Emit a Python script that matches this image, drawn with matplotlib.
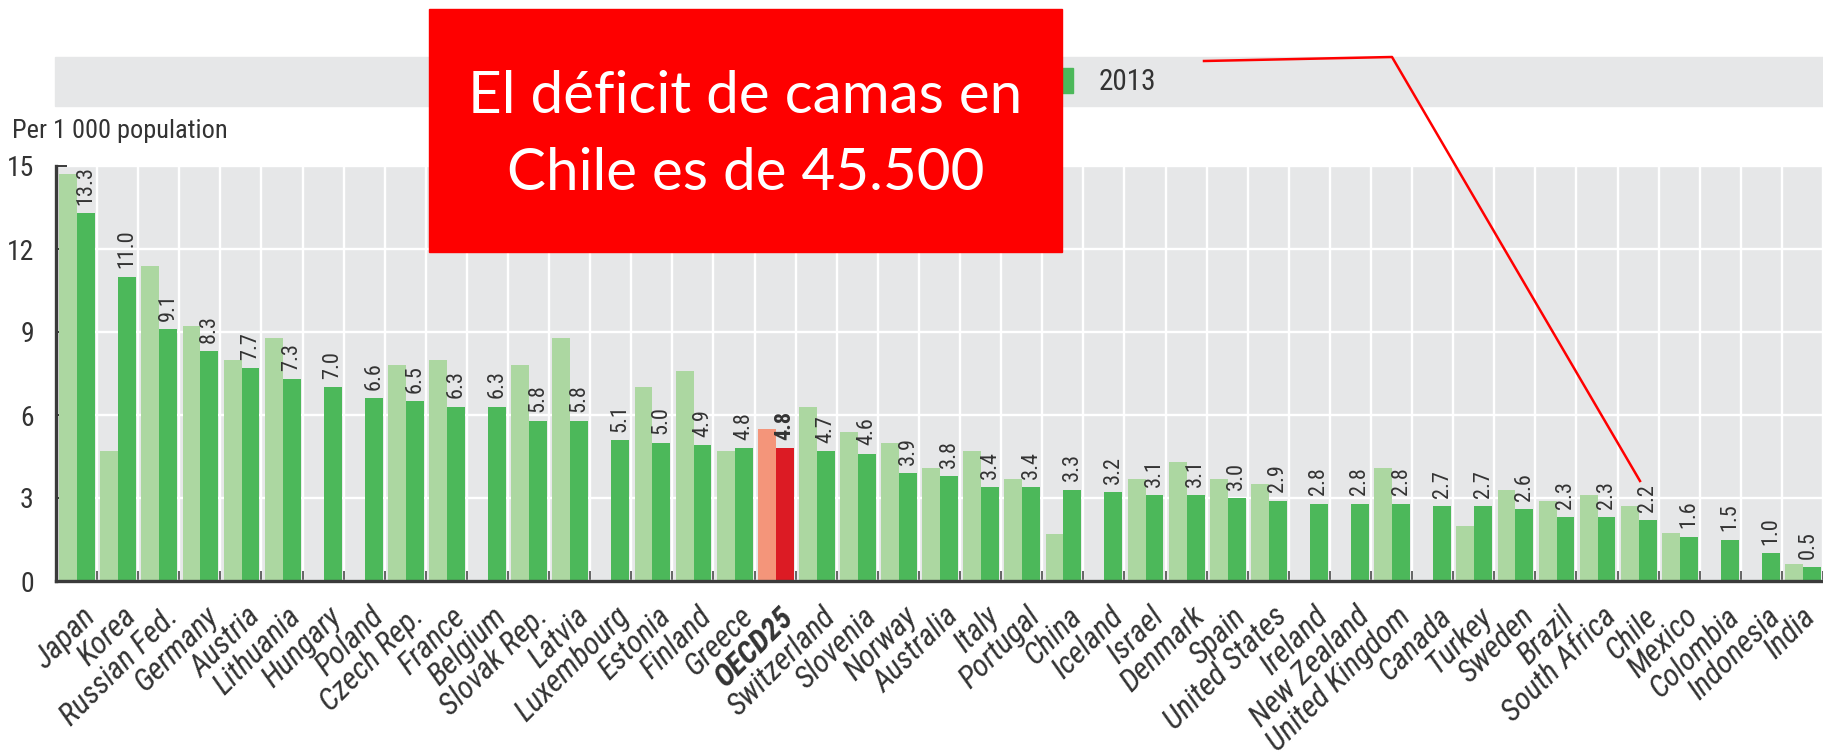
import numpy as np
import matplotlib
matplotlib.use("Agg")
import matplotlib.pyplot as plt
from matplotlib.patches import Rectangle
from matplotlib.lines import Line2D
from matplotlib import font_manager as fm

# ---------------- data ----------------
countries = ["Japan", "Korea", "Russian Fed.", "Germany", "Austria", "Lithuania",
             "Hungary", "Poland", "Czech Rep.", "France", "Belgium", "Slovak Rep.",
             "Latvia", "Luxembourg", "Estonia", "Finland", "Greece", "OECD25",
             "Switzerland", "Slovenia", "Norway", "Australia", "Italy", "Portugal",
             "China", "Iceland", "Israel", "Denmark", "Spain", "United States",
             "Ireland", "New Zealand", "United Kingdom", "Canada", "Turkey",
             "Sweden", "Brazil", "South Africa", "Chile", "Mexico", "Colombia",
             "Indonesia", "India"]
nan = np.nan
beds_2000 = [14.7, 4.7, 11.4, 9.2, 8.0, 8.8, nan, nan, 7.8, 8.0, nan, 7.8, 8.8,
             nan, 7.0, 7.6, 4.7, 5.5, 6.3, 5.4, 5.0, 4.1, 4.7, 3.7, 1.7, nan,
             3.7, 4.3, 3.7, 3.5, nan, nan, 4.1, nan, 2.0, 3.3, 2.9, 3.1, 2.7,
             1.75, nan, nan, 0.6]
beds_2013 = [13.3, 11.0, 9.1, 8.3, 7.7, 7.3, 7.0, 6.6, 6.5, 6.3, 6.3, 5.8, 5.8,
             5.1, 5.0, 4.9, 4.8, 4.8, 4.7, 4.6, 3.9, 3.8, 3.4, 3.4, 3.3, 3.2,
             3.1, 3.1, 3.0, 2.9, 2.8, 2.8, 2.8, 2.7, 2.7, 2.6, 2.3, 2.3, 2.2,
             1.6, 1.5, 1.0, 0.5]
highlight = "OECD25"
y_ticks = [0, 3, 6, 9, 12, 15]
legend_label = "2013"
y_title = "Per 1 000 population"
note_lines = ["El déficit de camas en", "Chile es de 45.500"]

# ---------------- style ----------------
W, H = 1823, 756
LIGHT, DARK = "#acd7a1", "#4cb85a"
HL_LIGHT, HL_DARK = "#f4957a", "#dc1b24"
BG = "#e6e7e8"
TXT = "#333333"
AX = "#3a3a3a"


def pick_narrow():
    names = {f.name for f in fm.fontManager.ttflist}
    for nm in ["Liberation Sans Narrow", "Arial Narrow", "Roboto Condensed",
               "Noto Sans Condensed", "Open Sans Condensed",
               "DejaVu Sans Condensed", "Noto Sans SemiCondensed",
               "Open Sans SemiCondensed"]:
        if nm in names:
            return nm, "normal", True
    for fam in ["Noto Sans", "Roboto", "Open Sans", "Liberation Sans",
                "DejaVu Sans"]:
        for f in fm.fontManager.ttflist:
            if f.name == fam and str(f.stretch) in (
                    "condensed", "semi-condensed", "extra-condensed"):
                return fam, str(f.stretch), True
    return "Liberation Sans", "normal", False


NFAM, NSTRETCH, narrow_ok = pick_narrow()
NARROW = [NFAM, "DejaVu Sans"]
k = 1.0 if narrow_ok else 0.87

fig = plt.figure(figsize=(W / 100, H / 100), dpi=100)


def fx(x):
    return x / W


def fy(y):
    return 1 - y / H


ax_left, ax_bottom_px, ax_top_px = 56, 581, 166
ax = fig.add_axes([fx(ax_left), fy(ax_bottom_px), 1 - fx(ax_left),
                   (ax_bottom_px - ax_top_px) / H])
ax.set_facecolor(BG)

n = len(countries)
x = np.arange(n)
group_px = 41.19
bw = 0.435
off_l, off_d = -0.2025, 0.2325

c_light = [HL_LIGHT if c == highlight else LIGHT for c in countries]
c_dark = [HL_DARK if c == highlight else DARK for c in countries]
ax.bar(x + off_l, np.nan_to_num(beds_2000), width=bw, color=c_light, zorder=2)
ax.bar(x + off_d, beds_2013, width=bw, color=c_dark, zorder=2)

ax.set_xlim(-0.5, -0.5 + (W - ax_left) / group_px)
ax.set_ylim(0, 15)

# grid
ax.set_axisbelow(True)
ax.set_yticks(y_ticks)
ax.set_xticks(x)
ax.set_xticks(np.arange(-0.5, n, 1), minor=True)
ax.grid(axis="y", which="major", color="white", lw=1.7)
ax.grid(axis="x", which="minor", color="white", lw=1.7)
ax.grid(axis="x", which="major", visible=False)

for s in ["top", "right"]:
    ax.spines[s].set_visible(False)
for s in ["left", "bottom"]:
    ax.spines[s].set_color(AX)
    ax.spines[s].set_linewidth(2.4)
    ax.spines[s].set_zorder(5)

ax.tick_params(axis="x", which="major", length=0, labelbottom=False)
ax.tick_params(axis="x", which="minor", direction="in", length=7, width=1.1,
               color=AX)
ax.tick_params(axis="y", which="major", direction="in", length=8, width=1.4,
               color=AX, pad=16, labelsize=20 * k, labelcolor=TXT)
for t in ax.get_yticklabels():
    t.set_family(NARROW)
    t.set_fontstretch(NSTRETCH)

# value labels (2013)
for i, (c, v) in enumerate(zip(countries, beds_2013)):
    dx = -3 if i == n - 1 else 0   # keep the last label inside the picture
    ax.annotate(f"{v:.1f}", xy=(i + off_d, v), xytext=(dx, 6),
                textcoords="offset points", rotation=90, ha="center",
                va="bottom", fontsize=16 * k, family=NARROW,
                fontstretch=NSTRETCH, color=TXT,
                fontweight="bold" if c == highlight else "normal", zorder=4)

# category labels
for i, c in enumerate(countries):
    dx = -1.5 if i == n - 1 else 3
    ax.annotate(c, xy=(i, 0), xycoords=("data", "axes fraction"),
                xytext=(dx, -15), textcoords="offset points", rotation=45,
                rotation_mode="anchor", ha="right", va="top",
                fontsize=22.5 * k, family=NARROW, fontstretch=NSTRETCH,
                style="italic", color=TXT,
                fontweight="bold" if c == highlight else "normal",
                annotation_clip=False)

# y title
fig.text(fx(12), fy(131), y_title, ha="left", va="center", fontsize=19 * k,
         family=NARROW, fontstretch=NSTRETCH, color=TXT)

# legend band
fig.patches.append(Rectangle((fx(55), fy(106)), 1 - fx(55), (106 - 57) / H,
                             transform=fig.transFigure, color=BG, zorder=0))
fig.patches.append(Rectangle((fx(1048), fy(93)), 25 / W, 25 / H,
                             transform=fig.transFigure, color=DARK, zorder=1))
fig.text(fx(1099), fy(82), legend_label, ha="left", va="center",
         fontsize=21 * k, family=NARROW, fontstretch=NSTRETCH, color=TXT,
         zorder=2)

# red annotation box
fig.patches.append(Rectangle((fx(429), fy(252)), (1062 - 429) / W,
                             (252 - 9) / H, transform=fig.transFigure,
                             color="#fe0000", zorder=10))
fig.text(fx(745.5), fy(113), note_lines[0], ha="center", va="baseline",
         fontsize=42, family=["Lato", "DejaVu Sans"], color="white", zorder=11)
fig.text(fx(745.5), fy(190), note_lines[1], ha="center", va="baseline",
         fontsize=42, family=["Lato", "DejaVu Sans"], color="white", zorder=11)

# pointer line
fig.lines.append(Line2D([fx(1204), fx(1392), fx(1640)],
                        [fy(61), fy(57), fy(481)],
                        transform=fig.transFigure, color="#ff0000", lw=1.8,
                        zorder=12))

fig.savefig("out.png", dpi=100)
